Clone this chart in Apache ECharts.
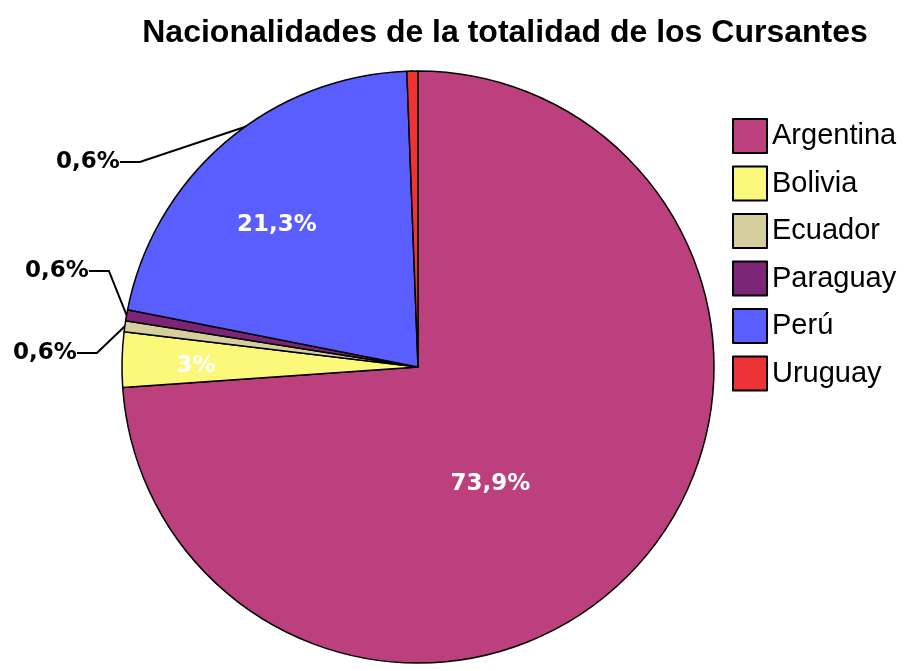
<!DOCTYPE html>
<html>
<head>
	<meta charset="utf-8">
	<title></title>
	<script src="https://cdn.jsdelivr.net/npm/echarts@6/dist/echarts.min.js"></script>
	<style>
		body { margin: 0; background: #fff; }
	</style>
</head>
<body>
	<div id="main" style="width: 907px;height:671px;"></div>
	<script type="text/javascript">
		// datos
		var paises = ['Argentina', 'Bolivia', 'Ecuador', 'Paraguay', 'Perú', 'Uruguay'];
		var porcentajes = [73.9, 3, 0.6, 0.6, 21.3, 0.6];
		var colores = ['#BC407D', '#FBF87A', '#D5CF9D', '#7C2577', '#5A5EFF', '#EE3337'];

		// etiquetas dentro del sector (desplazamiento) o afuera
		var adentro = { 'Argentina': [-38, 14], 'Bolivia': [-71, 3], 'Perú': [-43, -27] };
		var afuera = { 'Uruguay': [88, 162], 'Paraguay': [57, 271], 'Ecuador': [45, 353] };

		var data = [];
		for (var i = 0; i < paises.length; i++) {
			var item = {
				name: paises[i],
				value: porcentajes[i],
				itemStyle: { color: colores[i] }
			};
			if (adentro[paises[i]]) {
				item.label = {
					position: 'inside',
					offset: adentro[paises[i]],
					color: '#fff'
				};
				item.labelLine = { show: false };
			}
			data.push(item);
		}

		var myChart = echarts.init(document.getElementById('main'));

		var option = {
			animation: false,
			title: {
				text: 'Nacionalidades de la totalidad de los Cursantes',
				left: 500,
				textAlign: 'center',
				top: 12,
				textStyle: {
					fontFamily: '"Liberation Sans Narrow", "Liberation Sans", sans-serif',
					fontWeight: 'bold',
					fontSize: 32,
					color: '#000'
				}
			},
			legend: {
				orient: 'vertical',
				left: 727,
				top: 113,
				itemWidth: 34,
				itemHeight: 34,
				itemGap: 11.5,
				icon: 'rect',
				data: paises,
				textStyle: {
					fontFamily: '"Liberation Sans Narrow", "Liberation Sans", sans-serif',
					fontSize: 29,
					color: '#000',
					padding: [0, 0, 0, 0]
				}
			},
			series: [
				{
					type: 'pie',
					radius: 296,
					center: [418, 367],
					startAngle: 90,
					clockwise: true,
					data: data,
					itemStyle: {
						borderColor: '#000',
						borderWidth: 1.5
					},
					label: {
						show: true,
						formatter: function (p) {
							return String(p.value).replace('.', ',') + '%';
						},
						fontFamily: '"DejaVu Sans", sans-serif',
						fontWeight: 'bold',
						fontSize: 23,
						color: '#000'
					},
					labelLine: {
						show: true,
						length: 20,
						length2: 20,
						lineStyle: { color: '#000', width: 2 }
					},
					labelLayout: function (params) {
						var nombre = paises[params.dataIndex];
						if (afuera[nombre]) {
							return {
								x: afuera[nombre][0],
								y: afuera[nombre][1],
								align: 'center',
								verticalAlign: 'middle'
							};
						}
					}
				}
			]
		};

		myChart.setOption(option);
	</script>
</body>
</html>
